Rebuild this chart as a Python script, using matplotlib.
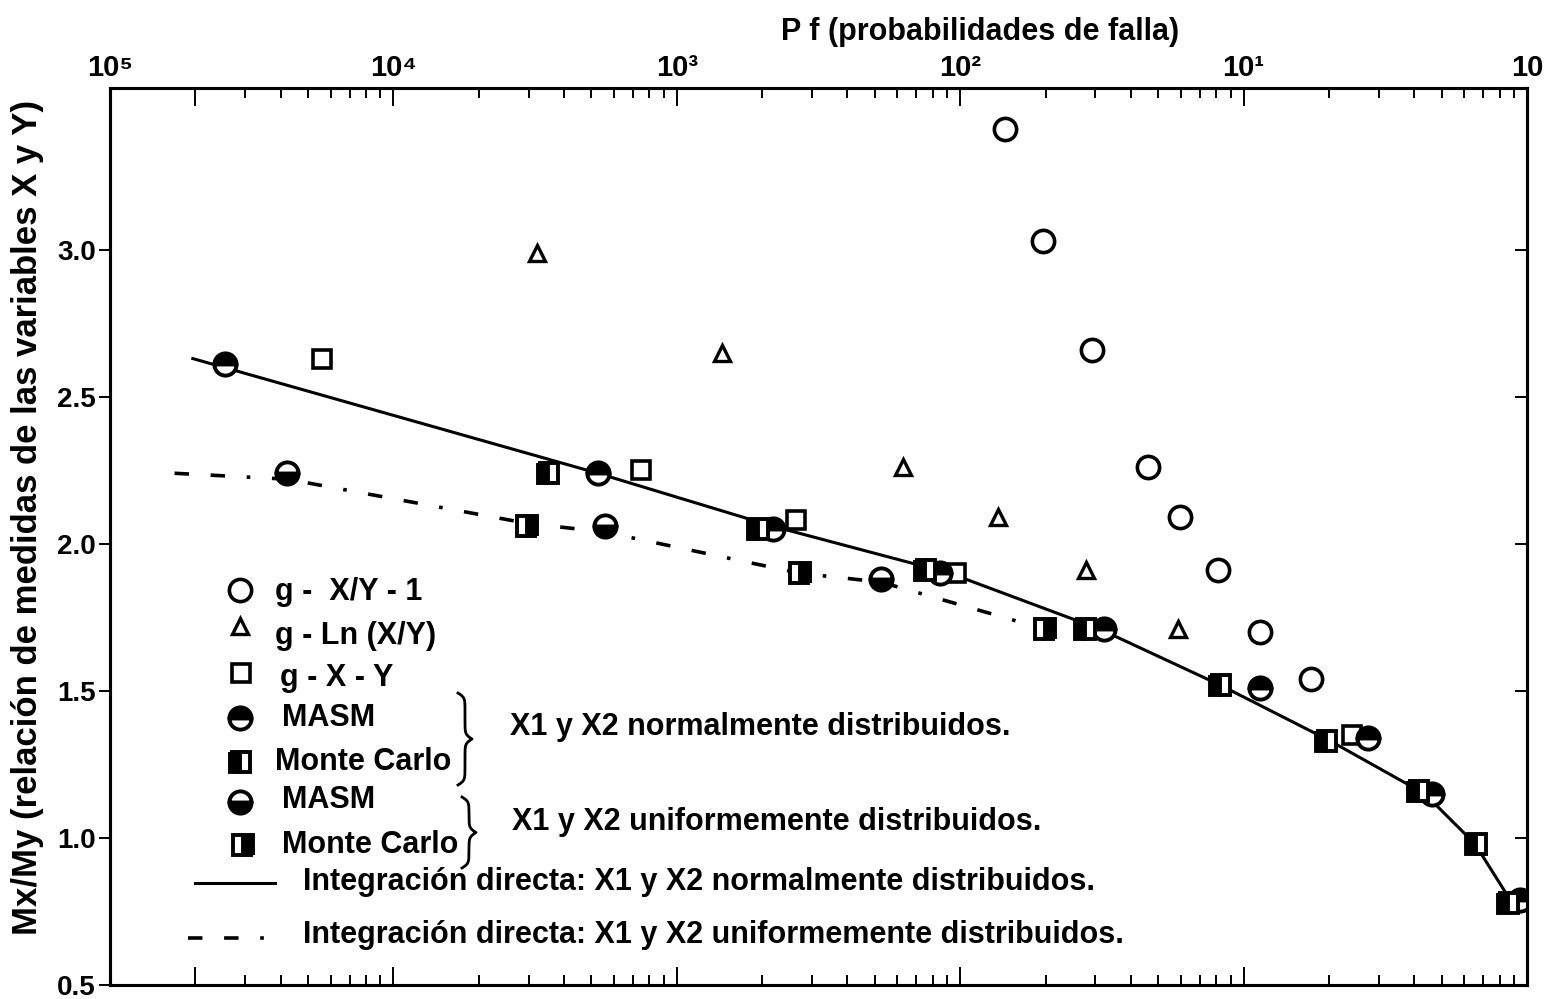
import numpy as np
import matplotlib.pyplot as plt
from matplotlib import font_manager
from matplotlib.lines import Line2D
from matplotlib.ticker import LogLocator, NullFormatter

installed = {f.name for f in font_manager.fontManager.ttflist}
main_font = 'Liberation Sans Narrow' if 'Liberation Sans Narrow' in installed else 'Liberation Sans'
plt.rcParams['font.family'] = [main_font, 'DejaVu Sans']
plt.rcParams['font.weight'] = 'bold'

# values (Pf on a log axis, Mx/My on a linear one)
xy1_pf = [0.0144, 0.0196, 0.0292, 0.0460, 0.0597, 0.0813, 0.114, 0.173]
xy1_m = [3.41, 3.03, 2.66, 2.26, 2.09, 1.91, 1.70, 1.54]

ln_pf = [3.2e-4, 1.44e-3, 6.3e-3, 0.0136, 0.0278, 0.0586]
ln_m = [2.99, 2.65, 2.26, 2.09, 1.91, 1.71]

xmy_pf = [5.6e-5, 7.5e-4, 2.64e-3, 9.7e-3, 0.241]
xmy_m = [2.63, 2.25, 2.08, 1.90, 1.35]

masm_n_pf = [2.55e-5, 5.27e-4, 2.18e-3, 8.5e-3, 0.0321, 0.114, 0.275, 0.462, 0.944]
masm_n_m = [2.61, 2.24, 2.05, 1.90, 1.71, 1.51, 1.34, 1.15, 0.79]

mc_n_pf = [3.5e-4, 1.93e-3, 7.5e-3, 0.0276, 0.0826, 0.195, 0.412, 0.66, 0.857]
mc_n_m = [2.24, 2.05, 1.91, 1.71, 1.52, 1.33, 1.16, 0.98, 0.78]

masm_u_pf = [4.22e-5, 5.58e-4, 5.25e-3]
masm_u_m = [2.24, 2.06, 1.88]

mc_u_pf = [2.96e-4, 2.72e-3, 0.0199]
mc_u_m = [2.06, 1.90, 1.71]

# integracion directa
dir_n_pf = [1.96e-5, 5.27e-4, 2.18e-3, 9.2e-3, 0.0311, 0.0826, 0.202, 0.436, 0.655, 0.885]
dir_n_m = [2.63, 2.24, 2.06, 1.90, 1.71, 1.52, 1.33, 1.15, 0.98, 0.78]

dir_u_pf = [1.69e-5, 4.22e-5, 2.96e-4, 5.58e-4, 2.72e-3, 5.25e-3, 0.0183]
dir_u_m = [2.24, 2.22, 2.07, 2.04, 1.90, 1.87, 1.72]

x_ticks = [1e-5, 2e-5, 1e-4, 1e-3, 1e-2, 1e-1, 1e0]
x_labels = ['10\u2075', '', '10\u2074', '10\u00b3', '10\u00b2', '10\u00b9', '10']
y_ticks = [0.5, 1.0, 1.5, 2.0, 2.5, 3.0]
y_labels = ['0.5', '1.0', '1.5', '2.0', '2.5', '3.0']

fig = plt.figure(figsize=(15.62, 9.99), dpi=100)
ax = fig.add_axes([110 / 1562, 14 / 999, 1417 / 1562, 897 / 999])

dashdot = (4, 6, 4, 6, 1, 6)
ax.plot(dir_n_pf, dir_n_m, color='black', lw=2.2, zorder=2)
ax.plot(dir_u_pf, dir_u_m, color='black', lw=2.6, dashes=dashdot, zorder=2)

mk = dict(ls='none', mec='black', color='black', zorder=3)
ax.plot(xy1_pf, xy1_m, 'o', ms=16, mfc='white', mew=2.6, **mk)
ax.plot(ln_pf, ln_m, '^', ms=11, mfc='white', mew=2.4, **mk)
ax.plot(xmy_pf, xmy_m, 's', ms=13, mfc='white', mew=2.6, **mk)
ax.plot(masm_n_pf, masm_n_m, 'o', ms=16, fillstyle='top', mfc='black', mfcalt='white', mew=2.8, **mk)
ax.plot(mc_n_pf, mc_n_m, 's', ms=14, fillstyle='left', mfc='black', mfcalt='white', mew=2.8, **mk)
ax.plot(masm_u_pf, masm_u_m, 'o', ms=16, fillstyle='bottom', mfc='black', mfcalt='white', mew=2.8, **mk)
ax.plot(mc_u_pf, mc_u_m, 's', ms=14, fillstyle='right', mfc='black', mfcalt='white', mew=2.8, **mk)

ax.set_xscale('log')
ax.set_xlim(1e-5, 1)
ax.set_ylim(0.5, 3.55)

ax.set_xticks(x_ticks, x_labels)
ax.xaxis.set_minor_locator(LogLocator(base=10, subs=np.arange(2, 10), numticks=20))
ax.xaxis.set_minor_formatter(NullFormatter())
ax.tick_params(axis='x', which='both', direction='in', top=True, bottom=True,
               labeltop=True, labelbottom=False, width=1.4, pad=4, labelsize=21)
ax.tick_params(axis='x', which='major', length=13)
ax.tick_params(axis='x', which='minor', length=7)

ax2 = ax.twinx()
ax2.set_ylim(ax.get_ylim())
ax2.set_yticks(y_ticks)
ax2.tick_params(axis='y', direction='in', length=9, width=1.4, labelright=False)
ax.set_yticks(y_ticks, y_labels)
ax.tick_params(axis='y', direction='out', length=8, width=1.4, labelsize=20, pad=2)

for a in (ax, ax2):
    for s in a.spines.values():
        s.set_linewidth(2.2)

fig.text(980 / 1562, 1 - 32 / 999, 'P f (probabilidades de falla)', ha='center', va='center', fontsize=22)
fig.text(28 / 1562, 1 - 517 / 999, 'Mx/My (relación de medidas de las variables X y Y)',
         rotation=90, ha='center', va='center', fontsize=25)

# hand-made legend, placed in pixel units of the reference picture
tr = fig.dpi_scale_trans


def P(x, y):
    return x / 100, (999 - y) / 100


def key(x, y, **kw):
    px, py = P(x, y)
    fig.add_artist(Line2D([px], [py], transform=tr, ls='none', mec='black', color='black', **kw))


def label(x, y, s):
    px, py = P(x, y)
    fig.text(px, py, s, transform=tr, ha='left', va='center', fontsize=22)


def brace(x, y0, y1, w=14, beta=0.45):
    half = (y1 - y0) / 2
    s = np.linspace(0, half, 120)
    h = 1 / (1 + np.exp(-beta * s)) + 1 / (1 + np.exp(-beta * (s - half)))
    xs = np.concatenate([h, h[::-1]]) - 0.5
    ys = np.concatenate([y0 + s, y0 + half + s])
    fig.add_artist(Line2D((x + xs * w) / 100, (999 - ys) / 100, transform=tr, color='black', lw=2))


key(240, 590, marker='o', ms=16, mfc='white', mew=2.6)
key(240, 626, marker='^', ms=11, mfc='white', mew=2.4)
key(241, 673, marker='s', ms=13, mfc='white', mew=2.6)
key(240, 718, marker='o', ms=16, fillstyle='top', mfc='black', mfcalt='white', mew=2.8)
key(240, 762, marker='s', ms=14, fillstyle='left', mfc='black', mfcalt='white', mew=2.8)
key(240, 802, marker='o', ms=16, fillstyle='bottom', mfc='black', mfcalt='white', mew=2.8)
key(243, 845, marker='s', ms=14, fillstyle='right', mfc='black', mfcalt='white', mew=2.8)

label(275, 592, 'g -  X/Y - 1')
label(275, 636, 'g - Ln (X/Y)')
label(280, 678, 'g - X - Y')
label(282, 718, 'MASM')
label(275, 762, 'Monte Carlo')
label(282, 800, 'MASM')
label(282, 845, 'Monte Carlo')

brace(458, 693, 785)
brace(462, 797, 868)
label(510, 727, 'X1 y X2 normalmente distribuidos.')
label(512, 822, 'X1 y X2 uniformemente distribuidos.')

x0, y0 = P(195, 883)
x1, _ = P(275, 883)
fig.add_artist(Line2D([x0, x1], [y0, y0], transform=tr, color='black', lw=2.2))
x0, y0 = P(188, 938)
x1, _ = P(275, 938)
fig.add_artist(Line2D([x0, x1], [y0, y0], transform=tr, color='black', lw=2.6, dashes=dashdot))
label(303, 882, 'Integración directa: X1 y X2 normalmente distribuidos.')
label(303, 935, 'Integración directa: X1 y X2 uniformemente distribuidos.')

fig.savefig('out.png', dpi=100)
